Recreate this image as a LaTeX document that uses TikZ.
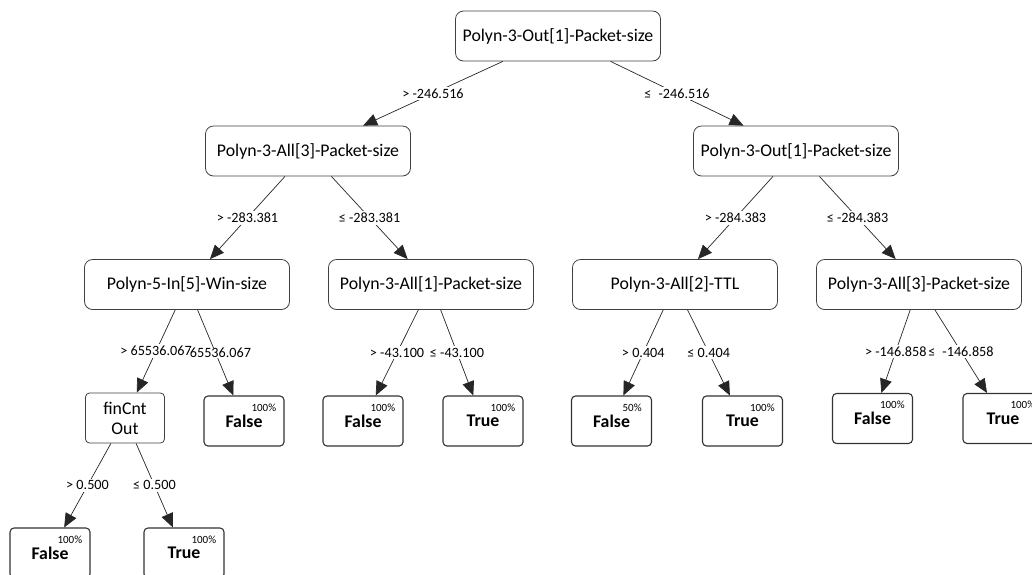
\documentclass[tikz,border=0pt]{standalone}
\usepackage{fontspec}
\setmainfont{Carlito}
\usetikzlibrary{positioning,arrows.meta}

\begin{document}
\begin{tikzpicture}[on grid, thick,
  main/.style = {draw=black!75, line width=0.8pt, rounded corners=8pt, minimum width=205pt, minimum height=50pt, inner sep=0pt, font=\fontsize{17.8}{20}\selectfont},
  leaf/.style = {draw=black!80, line width=1.1pt, rounded corners=4pt, minimum width=80pt, minimum height=50pt, inner sep=0pt, font=\fontsize{17.8}{20}\selectfont\bfseries},
  test/.style = {draw=black!75, line width=0.8pt, rounded corners=4pt, minimum width=79pt, minimum height=50pt, inner sep=0pt, align=center, font=\fontsize{17.8}{20}\selectfont},
  pct/.style = {anchor=north east, inner sep=0pt, xshift=-8pt, yshift=-8pt, font=\fontsize{11}{11}\selectfont},
  cond/.style = {fill=white, inner sep=2pt, font=\fontsize{14.2}{16}\selectfont},
  edge/.style = {draw=black!85, line width=0.7pt, -{Triangle[length=14pt,width=12pt]}}]
\useasboundingbox (0,0) rectangle (1032pt,-574pt);
\node[main] (1) at (558pt,-36pt) {Polyn-3-Out[1]-Packet-size};
\node[main] (2) [below left=115pt and 250pt of 1] {Polyn-3-All[3]-Packet-size};
\node[main] (3) [below right=115pt and 238pt of 1] {Polyn-3-Out[1]-Packet-size};
\node[main] (4) [below left=133.5pt and 121pt of 2] {Polyn-5-In[5]-Win-size};
\node[main] (5) [below right=133.5pt and 123pt of 2] {Polyn-3-All[1]-Packet-size};
\node[main] (6) [below left=133.5pt and 121pt of 3] {Polyn-3-All[2]-TTL};
\node[main] (7) [below right=133.5pt and 123pt of 3] {Polyn-3-All[3]-Packet-size};
\node[test] (8) [below left=133.5pt and 62pt of 4] {finCnt\\Out};
\node[leaf, label={[pct]north east:100\%}] (9) [below right=136.5pt and 57pt of 4] {False};
\node[leaf, label={[pct]north east:100\%}] (10) [below left=136.5pt and 68pt of 5] {False};
\node[leaf, label={[pct]north east:100\%}] (11) [below right=136.5pt and 52pt of 5] {True};
\node[leaf, label={[pct,xshift=-2pt]north east:50\%}] (12) [below left=136.5pt and 63.5pt of 6] {False};
\node[leaf, label={[pct]north east:100\%}] (13) [below right=136.5pt and 67.5pt of 6] {True};
\node[leaf, label={[pct]north east:100\%}] (14) [below left=134pt and 46.5pt of 7] {False};
\node[leaf, label={[pct]north east:100\%}] (15) [below right=134pt and 84pt of 7] {True};
\node[leaf, label={[pct]north east:100\%}] (16) [below left=135pt and 75pt of 8] {False};
\node[leaf, label={[pct]north east:100\%}] (17) [below right=135pt and 59pt of 8] {True};
\draw[edge] (1) -- node[cond] {> -246.516} (2);
\draw[edge] (1) -- node[cond] {≤\enskip-246.516} (3);
\draw[edge] (2) -- node[cond] {> -283.381} (4);
\draw[edge] (2) -- node[cond] {≤ -283.381} (5);
\draw[edge] (3) -- node[cond] {> -284.383} (6);
\draw[edge] (3) -- node[cond] {≤ -284.383} (7);
\draw[edge] (4) -- node[cond] {> 65536.067} (8);
\draw[edge] (4) -- node[cond, inner sep=0pt, xshift=5pt] {65536.067} (9);
\draw[edge] (5) -- node[cond] {> -43.100} (10);
\draw[edge] (5) -- node[cond] {≤ -43.100} (11);
\draw[edge] (6) -- node[cond] {> 0.404} (12);
\draw[edge] (6) -- node[cond] {≤ 0.404} (13);
\draw[edge] (7) -- node[cond] {> -146.858} (14);
\draw[edge] (7) -- node[cond] {≤\enskip-146.858} (15);
\draw[edge] (8) -- node[cond] {> 0.500} (16);
\draw[edge] (8) -- node[cond] {≤ 0.500} (17);
\end{tikzpicture}
\end{document}
